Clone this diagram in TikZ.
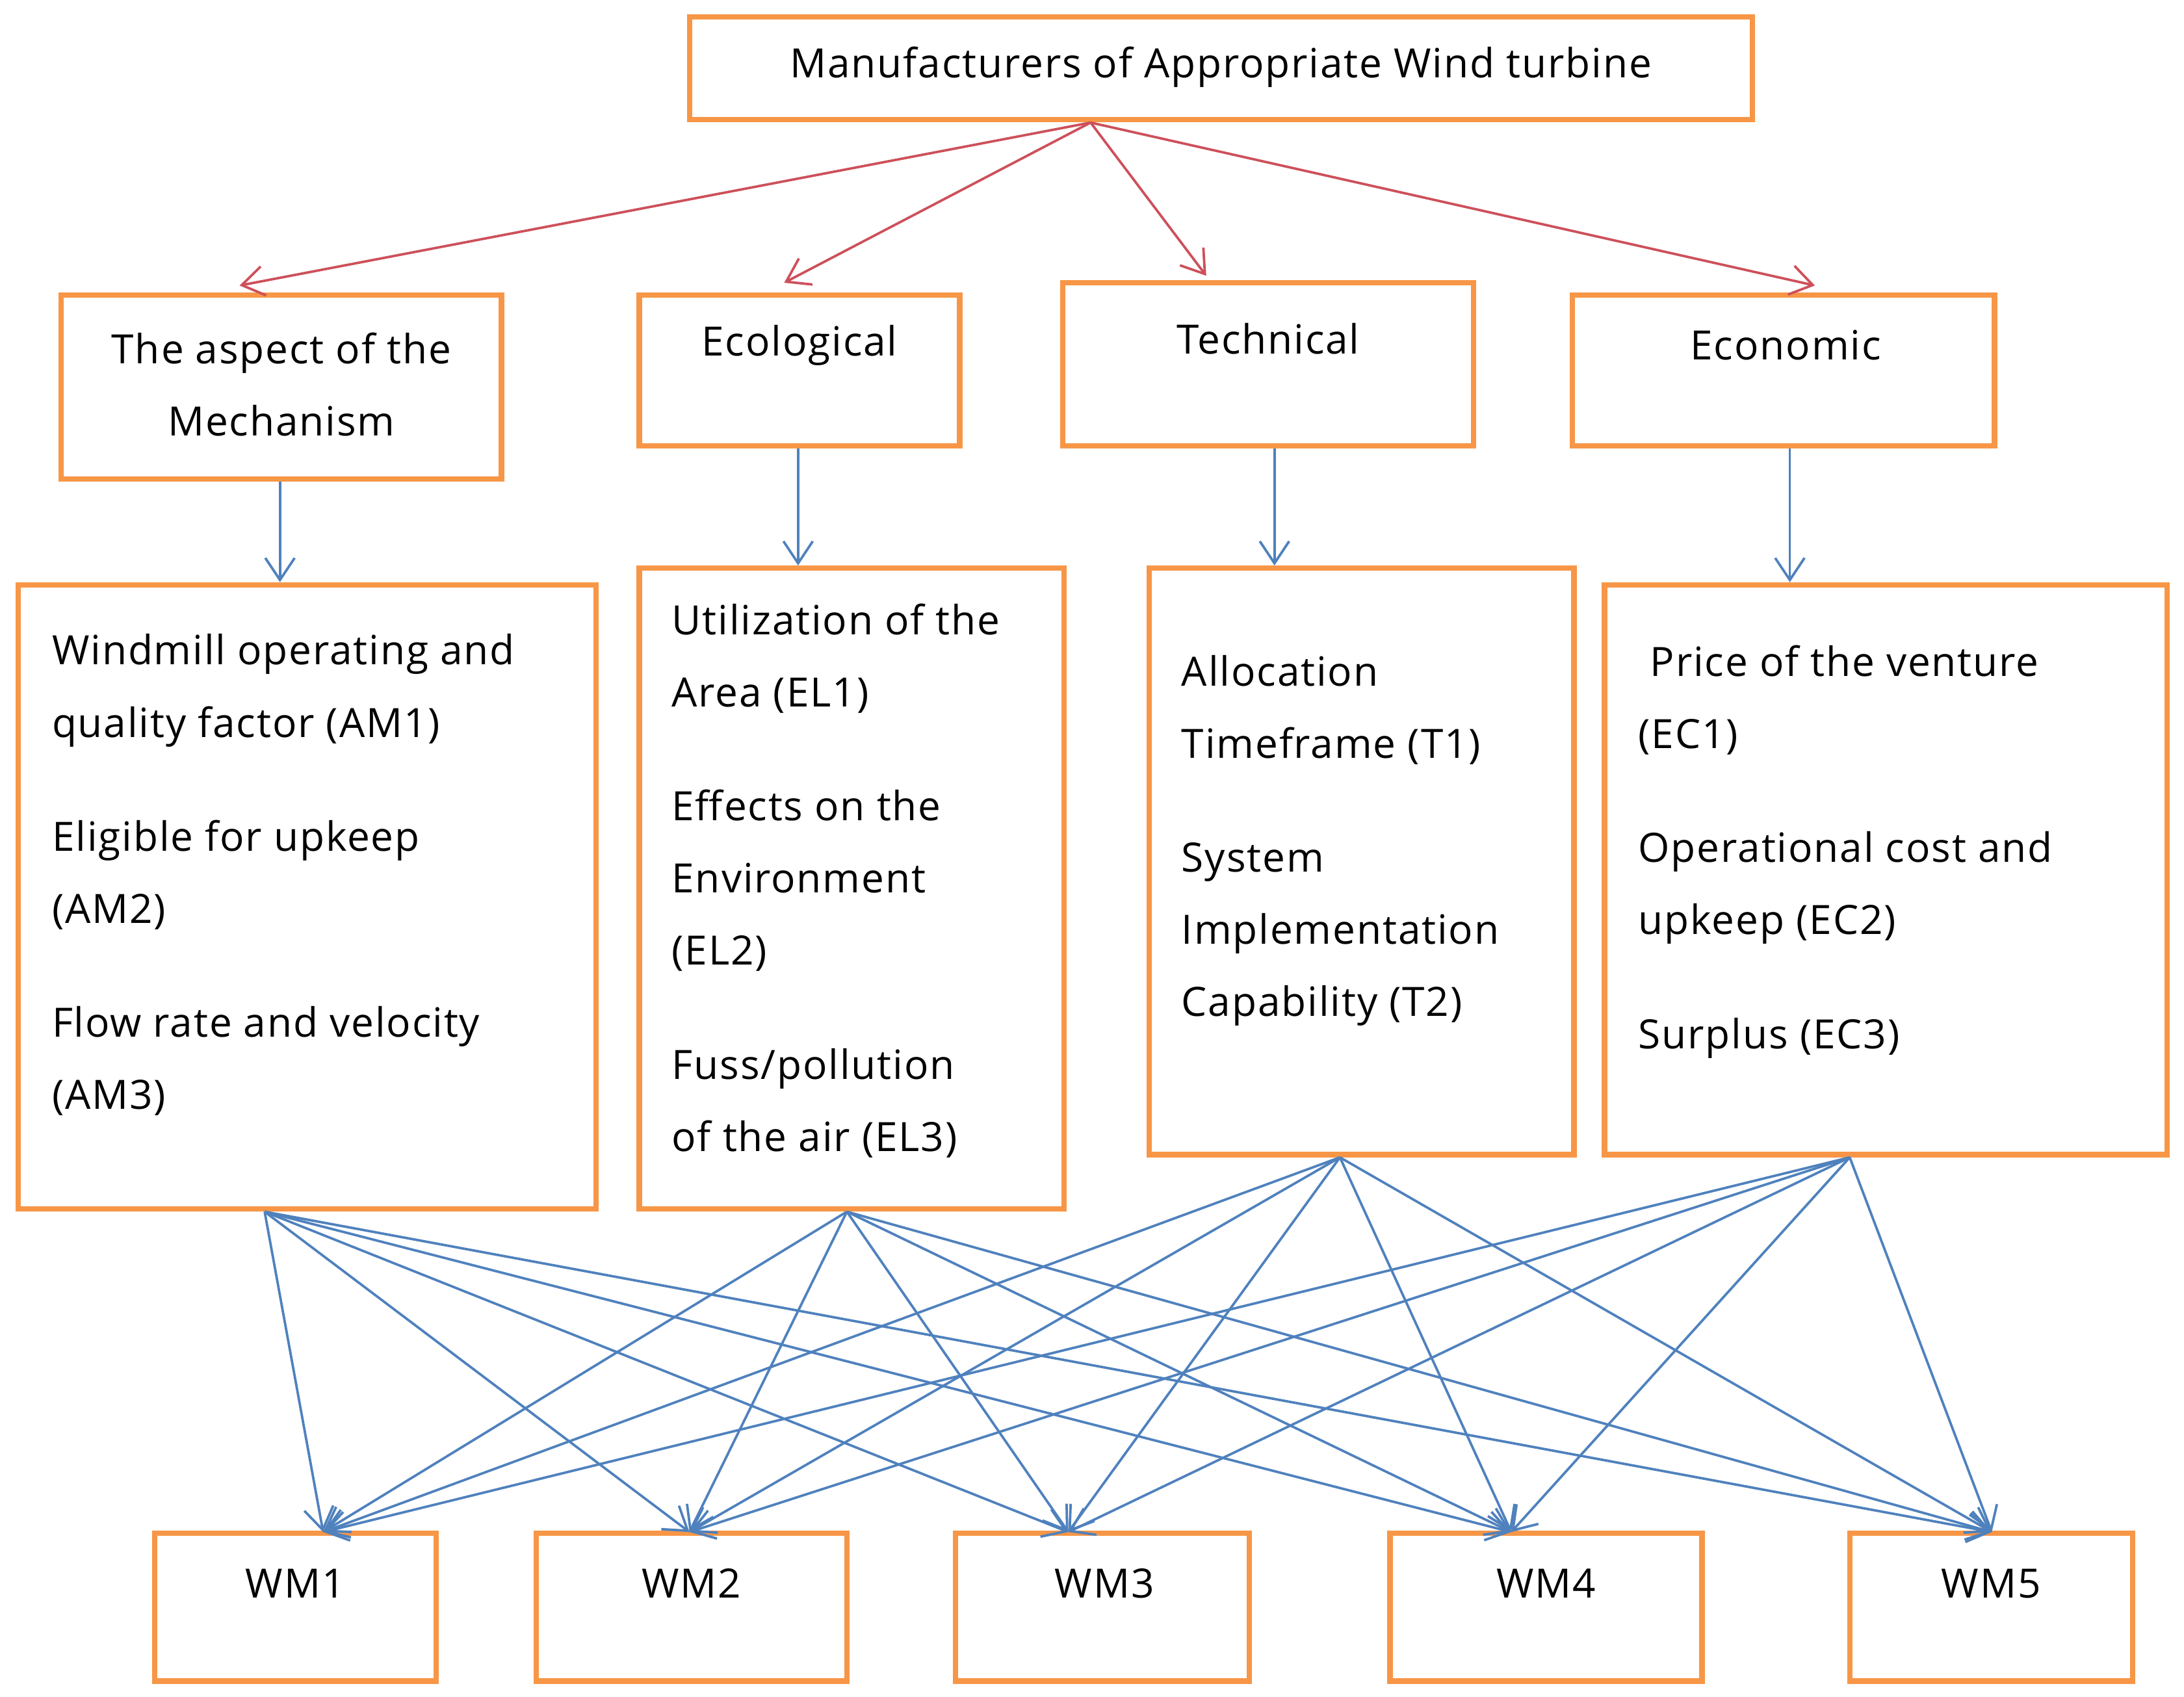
\documentclass[tikz,border=0pt]{standalone}
\usepackage{fontspec}
\setmainfont{Open Sans}[LetterSpace=3]
\usetikzlibrary{arrows.meta}
\definecolor{org}{RGB}{247,150,70}
\definecolor{rd}{RGB}{205,80,90}
\definecolor{bl}{RGB}{79,129,189}
\begin{document}
\begin{tikzpicture}[x=0.02cm,y=-0.02cm,
 box/.style={draw=org,line width=2.2pt,inner sep=0},
 txt/.style={font=\fontsize{16.5}{29.5}\selectfont,align=left,anchor=north west,inner sep=0},
 htxt/.style={font=\fontsize{16.5}{29.5}\selectfont,align=center,inner sep=0},
 ra/.style={draw=rd,line width=1pt,-{Straight Barb[length=9pt,width=12pt]}},
 ba/.style={draw=bl,line width=1pt,-{Straight Barb[length=9pt,width=12pt]}}]
\useasboundingbox (0,0) rectangle (1568,1218);
% boxes
\node[box,minimum width=763*0.02cm,minimum height=74*0.02cm] (top) at (876.5,49) {};
\node[box,minimum width=316*0.02cm,minimum height=132*0.02cm] (asp) at (202,278) {};
\node[box,minimum width=230*0.02cm,minimum height=108*0.02cm] (eco) at (574,266) {};
\node[box,minimum width=295*0.02cm,minimum height=117*0.02cm] (tec) at (910.5,261.5) {};
\node[box,minimum width=303*0.02cm,minimum height=108*0.02cm] (ecn) at (1280.5,266) {};
\node[box,minimum width=415*0.02cm,minimum height=448*0.02cm] (am) at (220.5,644) {};
\node[box,minimum width=305*0.02cm,minimum height=460*0.02cm] (el) at (611.5,638) {};
\node[box,minimum width=305*0.02cm,minimum height=421*0.02cm] (t) at (977.5,618.5) {};
\node[box,minimum width=404*0.02cm,minimum height=409*0.02cm] (ec) at (1354,624.5) {};
\foreach \n/\x/\w in {1/212/202,2/496.5/223,3/791.5/211,4/1110/224,5/1429.5/203}
  \node[box,minimum width=\w*0.02cm,minimum height=106*0.02cm] (wm\n) at (\x,1154) {};
\foreach \n/\x in {1/212,2/496.5,3/793,4/1110,5/1429.5}
  \node[htxt] (wmt\n) at (\x,1137) {WM\n};
% header texts
\node[htxt] (topt) at (876.5,48) {Manufacturers of Appropriate Wind turbine};
\node[htxt] (aspt) at (202,276) {The aspect of the\\Mechanism};
\node[htxt] (ecot) at (574,248) {Ecological};
\node[htxt] (tect) at (910.5,243) {Technical};
\node[htxt] (ecnt) at (1282,248) {Economic};
% body texts
\node[txt] (amt) at (37,455) {Windmill operating and\\quality factor (AM1)\\[0.6cm]Eligible for upkeep\\(AM2)\\[0.6cm]Flow rate and velocity\\(AM3)};
\node[txt] (elt) at (482,433) {Utilization of the\\Area (EL1)\\[0.6cm]Effects on the\\Environment\\(EL2)\\[0.6cm]Fuss/pollution\\of the air (EL3)};
\node[txt] (tt) at (848,470) {Allocation\\Timeframe (T1)\\[0.6cm]System\\Implementation\\Capability (T2)};
\node[txt] (ect) at (1176,463) {\ Price of the venture\\(EC1)\\[0.6cm]Operational cost and\\upkeep (EC2)\\[0.6cm]Surplus (EC3)};
% red arrows
\coordinate (r0) at (783,88);
\coordinate (ra1) at (172,205);\coordinate (ra2) at (563,203);
\coordinate (ra3) at (866,198);\coordinate (ra4) at (1303,205);
\foreach \i in {1,...,4} \draw[ra] (r0) -- (ra\i);
% blue verticals
\coordinate (b1) at (201,346);\coordinate (b1e) at (201,418);
\coordinate (b2) at (573,322);\coordinate (b2e) at (573,406);
\coordinate (b3) at (915,322);\coordinate (b3e) at (915,406);
\coordinate (b4) at (1285,322);\coordinate (b4e) at (1285,418);
\foreach \i in {1,...,4} \draw[ba] (b\i) -- (b\i e);
% bottom network
\coordinate (s1) at (190,870);\coordinate (s2) at (608,870);
\coordinate (s3) at (962,831);\coordinate (s4) at (1328,831);
\coordinate (e1) at (232,1100);\coordinate (e2) at (495,1100);
\coordinate (e3) at (767,1100);\coordinate (e4) at (1085,1100);
\coordinate (e5) at (1430,1100);
\foreach \s in {1,...,4}\foreach \e in {1,...,5} \draw[ba] (s\s) -- (e\e);
\end{tikzpicture}
\end{document}
